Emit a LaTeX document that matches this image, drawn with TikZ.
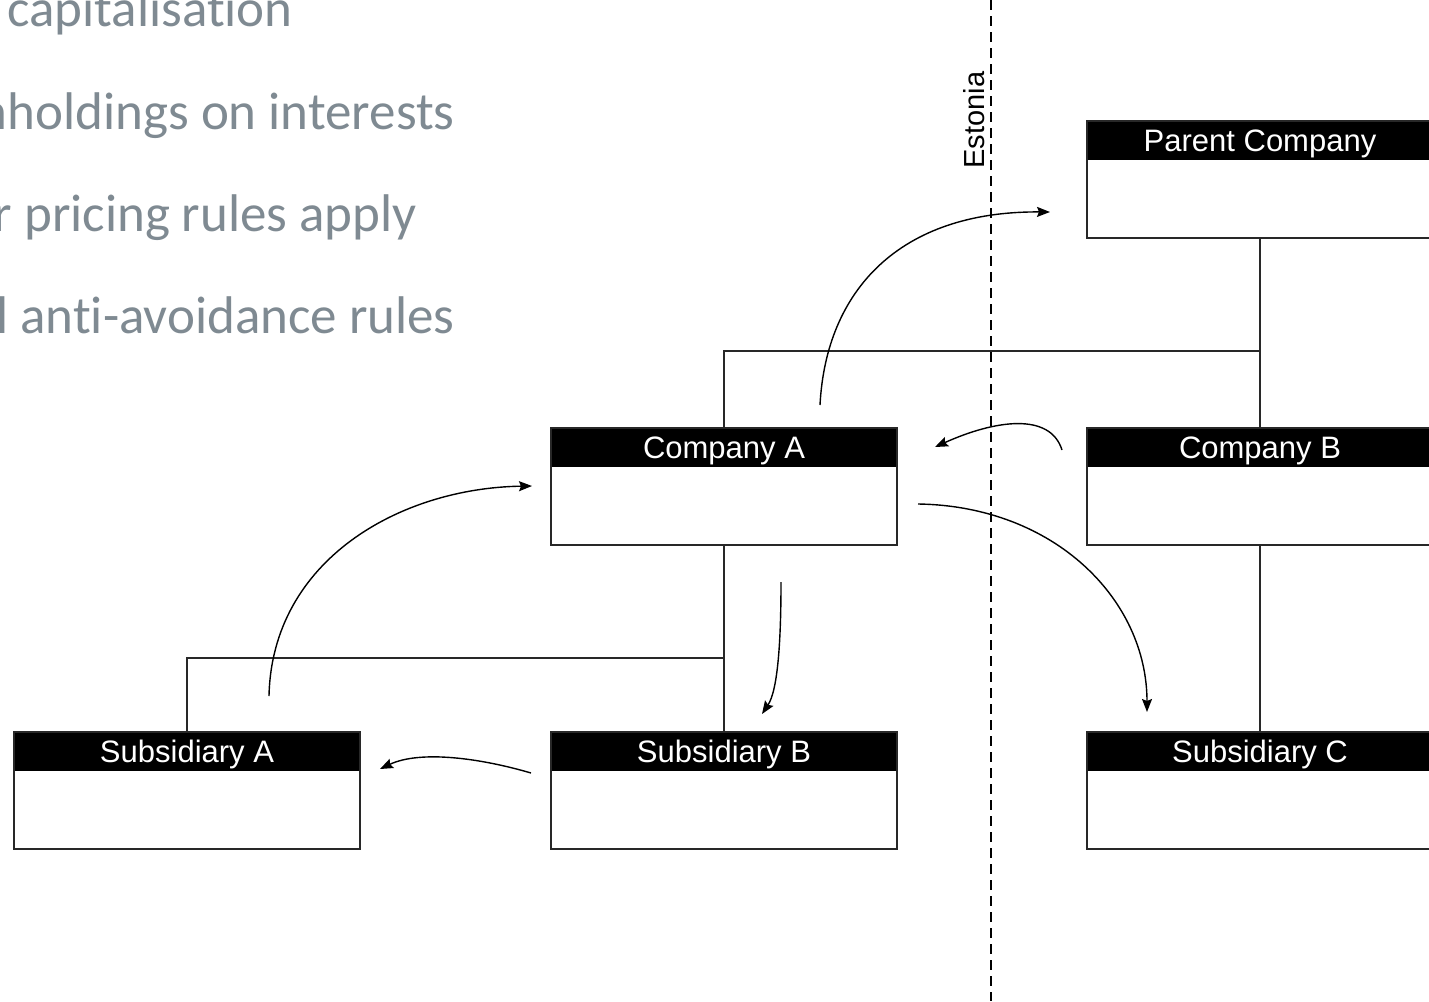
\documentclass[tikz,border=0pt]{standalone}
\usepackage{fontspec}
\setmainfont{Liberation Sans}
\newfontfamily\bulletfont[Ligatures=NoCommon]{Carlito}
\usetikzlibrary{arrows.meta,calc}
\definecolor{slidegray}{RGB}{127,138,146}
\definecolor{framegray}{RGB}{40,40,40}
\begin{document}
\begin{tikzpicture}[x=1pt,y=-1pt,
  box/.style={draw=framegray, line width=1.7pt, fill=white,
    minimum width=346pt, minimum height=117pt, inner sep=0pt,
    path picture={\fill[black] (path picture bounding box.north west)
      rectangle ([yshift=-39pt]path picture bounding box.north east);}},
  hdr/.style={text=white, inner sep=0pt, anchor=base,
    font=\fontsize{31}{31}\selectfont},
  tree/.style={draw=framegray, line width=1.7pt},
  flow/.style={draw=black, line width=1.4pt,
    -{Stealth[length=13pt,width=10pt,inset=2pt]}},
  bullet/.style={text=slidegray, inner sep=0pt, anchor=base east,
    font=\bulletfont\fontsize{53}{53}\selectfont}]
\useasboundingbox (0,0) rectangle (1429,1001);
\clip (0,0) rectangle (1429,1001);
\fill[white] (0,0) rectangle (1429,1001);

% slide text behind the chart
\node[bullet] (t1) at (293,27) {capitalisation};
\node[bullet] (t2) at (455,129) {hholdings on interests};
\node[bullet] (t3) at (417,231) {r pricing rules apply};
\node[bullet] (t4) at (455,333) {l anti-avoidance rules};

% border line
\coordinate (btop) at (991,0);
\coordinate (bbot) at (991,1001);
\draw[black, line width=1.6pt, dash pattern=on 10pt off 6pt] (btop) -- (bbot);
\node[rotate=90, anchor=base, inner sep=0pt, font=\fontsize{29}{29}\selectfont]
  (est) at (984,120) {Estonia};

% company boxes
\node[box] (pc) at (1260,179.5) {};
\node[box] (ca) at (724,486.5) {};
\node[box] (cb) at (1260,486.5) {};
\node[box] (sa) at (187,790.5) {};
\node[box] (sb) at (724,790.5) {};
\node[box] (sc) at (1260,790.5) {};

\node[hdr] (pcl) at ([yshift=-31pt]pc.north) {Parent Company};
\node[hdr] (cal) at ([yshift=-31pt]ca.north) {Company A};
\node[hdr] (cbl) at ([yshift=-31pt]cb.north) {Company B};
\node[hdr] (sal) at ([yshift=-31pt]sa.north) {Subsidiary A};
\node[hdr] (sbl) at ([yshift=-31pt]sb.north) {Subsidiary B};
\node[hdr] (scl) at ([yshift=-31pt]sc.north) {Subsidiary C};

% ownership tree
\coordinate (j1) at (1260,351);
\coordinate (j2) at (724,658);
\draw[tree] (pc.south) -- (cb.north);
\draw[tree] (ca.north) |- (j1);
\draw[tree] (ca.south) -- (sb.north);
\draw[tree] (sa.north) |- (j2);
\draw[tree] (cb.south) -- (sc.north);

% flows between companies
\coordinate (f1a) at (820,405);  \coordinate (f1b) at (1050,212);
\coordinate (f2a) at (1062,450); \coordinate (f2b) at (935,447);
\coordinate (f3a) at (918,504);  \coordinate (f3b) at (1147,712);
\coordinate (f4a) at (781,582);  \coordinate (f4b) at (762,714);
\coordinate (f5a) at (531,773);  \coordinate (f5b) at (380,769);
\coordinate (f6a) at (269,696);  \coordinate (f6b) at (532,486);
\draw[flow] (f1a) .. controls (826,290) and (900,211) .. (f1b);
\draw[flow] (f2a) .. controls (1050,412) and (995,420) .. (f2b);
\draw[flow] (f3a) .. controls (1055,506) and (1147,600) .. (f3b);
\draw[flow] (f4a) .. controls (781,640) and (778,690) .. (f4b);
\draw[flow] (f5a) .. controls (480,758) and (420,750) .. (f5b);
\draw[flow] (f6a) .. controls (272,560) and (400,488) .. (f6b);
\end{tikzpicture}
\end{document}
